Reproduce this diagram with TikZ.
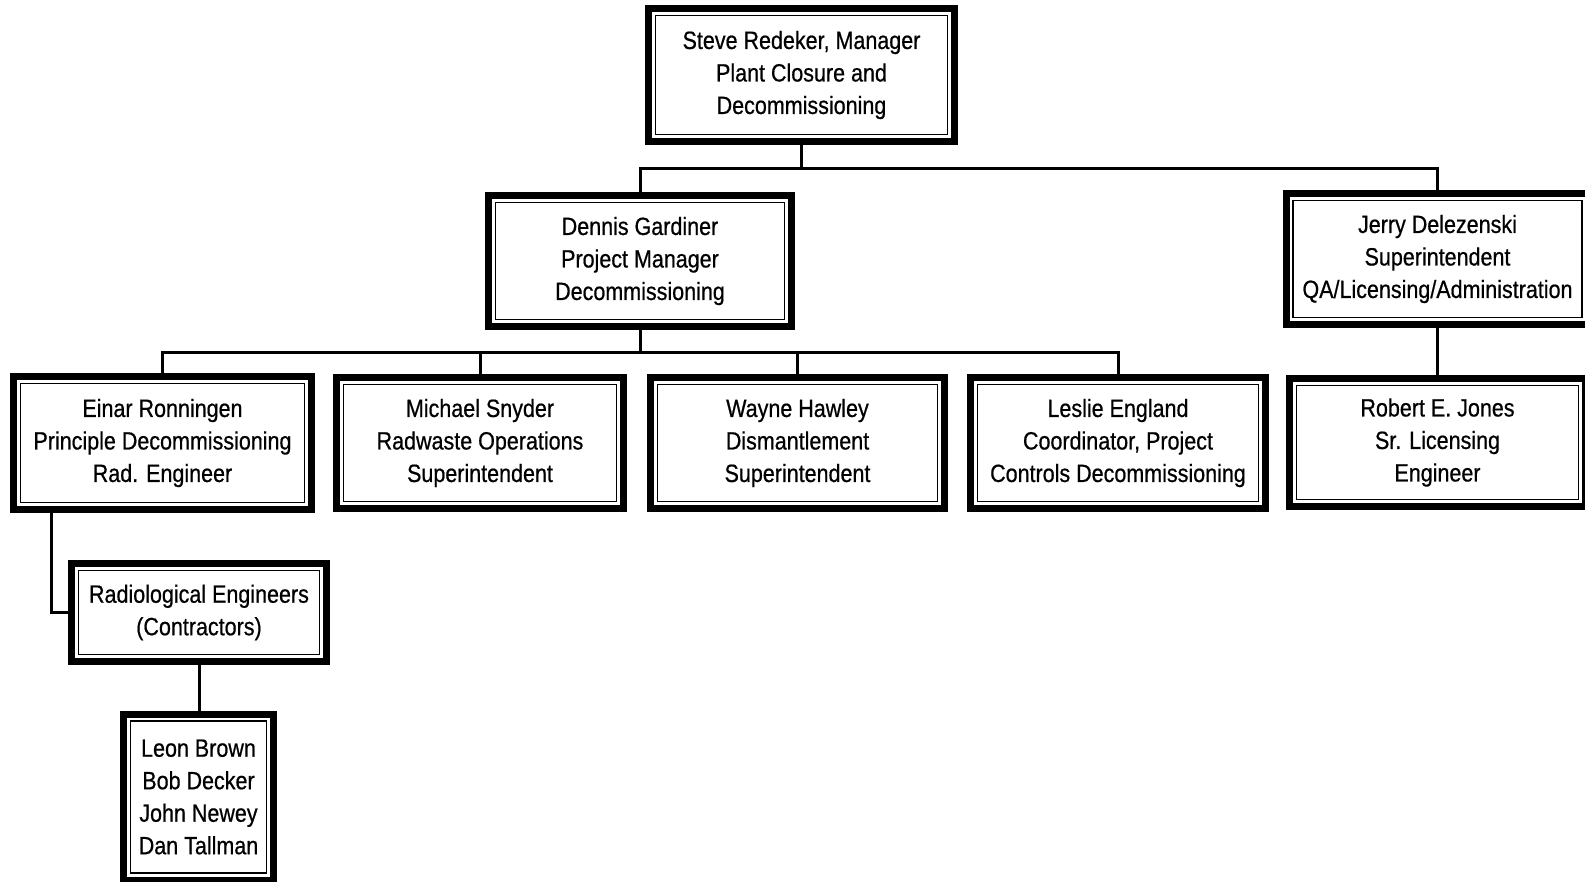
\documentclass[tikz,border=0pt]{standalone}
\usepackage{fontspec}
\setmainfont[FakeStretch=0.86,FakeBold=0.6]{Liberation Sans}
\begin{document}
\begin{tikzpicture}[x=1pt,y=-1pt,
  org/.style n args={2}{draw, line width=7pt, minimum width=#1, minimum height=#2,
    inner sep=0pt, align=center, fill=white,
    font=\fontsize{25}{32.5}\selectfont,
    path picture={\draw[line width=1.3pt]
      ([shift={(7,7)}]path picture bounding box.north west) rectangle
      ([shift={(-7,-7)}]path picture bounding box.south east);}},
  conn/.style={line width=3pt}]
\useasboundingbox (0,0) rectangle (1585,881);
\fill[white] (0,0) rectangle (1585,881);

\node[org={306pt}{133pt}] (top) at (801.5,75) {Steve Redeker, Manager\\Plant Closure and\\Decommissioning};
\node[org={303pt}{131pt}] (dennis) at (640,261) {Dennis Gardiner\\Project Manager\\Decommissioning};
\node[org={303pt}{131pt}] (jerry) at (1437.5,259) {Jerry Delezenski\\Superintendent\\QA/Licensing/Administration};

\node[org={298pt}{133pt}] (einar) at (162.5,443) {Einar Ronningen\\Principle Decommissioning\\Rad. Engineer};
\node[org={287pt}{131pt}] (michael) at (480,443) {Michael Snyder\\Radwaste Operations\\Superintendent};
\node[org={294pt}{131pt}] (wayne) at (797.5,443) {Wayne Hawley\\Dismantlement\\Superintendent};
\node[org={295pt}{131pt}] (leslie) at (1118,443) {Leslie England\\Coordinator, Project\\Controls Decommissioning};
\node[org={296pt}{128pt}] (robert) at (1437.5,442.5) {Robert E. Jones\\Sr. Licensing\\Engineer};

\node[org={255pt}{98pt}] (rad) at (199,612.5) {Radiological Engineers\\(Contractors)};
\node[org={150pt}{166pt}] (leon) at (198.5,797) {Leon Brown\\Bob Decker\\John Newey\\Dan Tallman};

\coordinate (j1) at (801.5,168);
\coordinate (j2) at (640,352);

\draw[conn] (top.south) -- (j1);
\draw[conn] (dennis.north) -- (dennis.north |- j1) -- (jerry.north |- j1) -- (jerry.north);
\draw[conn] (dennis.south) -- (j2);
\draw[conn] (einar.north) -- (einar.north |- j2) -- (leslie.north |- j2) -- (leslie.north);
\draw[conn] (michael.north) -- (michael.north |- j2);
\draw[conn] (wayne.north) -- (wayne.north |- j2);
\draw[conn] (jerry.south) -- (robert.north);
\draw[conn] ([xshift=41pt]einar.south west) |- (rad.west);
\draw[conn] (rad.south) -- (rad.south |- leon.north);
\end{tikzpicture}
\end{document}
